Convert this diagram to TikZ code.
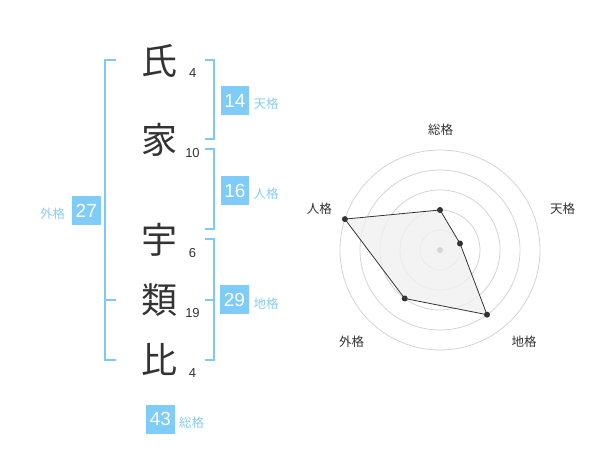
\documentclass[tikz,border=0pt]{standalone}
\usepackage{fontspec}
\setmainfont{Liberation Sans}
\newfontfamily\cjk{Noto Sans CJK JP}
\definecolor{ink}{HTML}{333333}
\definecolor{boxblue}{HTML}{80CCF8}
\definecolor{lineblue}{HTML}{80C8F8}
\definecolor{lblblue}{HTML}{8CCCF2}
\definecolor{ringgray}{HTML}{D4D4D4}
\definecolor{polyfill}{HTML}{F0F0F0}
\tikzset{
  kanji/.style={font=\cjk\fontsize{36}{36}\selectfont, text=ink, inner sep=0pt, anchor=base},
  strokes/.style={font=\fontsize{13}{13}\selectfont, text=ink, inner sep=0pt},
  scorebox/.style={fill=boxblue, text=white, minimum width=28.5pt, minimum height=29pt, inner sep=0pt, font=\fontsize{19}{19}\selectfont},
  lbl/.style={font=\cjk\fontsize{12.5}{12.5}\selectfont, text=lblblue, inner sep=0pt},
  bracketline/.style={draw=lineblue, line width=2pt},
  ring/.style={draw=ringgray, line width=0.8pt},
  axislbl/.style={font=\cjk\fontsize{12.5}{12.5}\selectfont, text=ink, inner sep=0pt},
  dot/.style={circle, fill=ink, inner sep=0pt, minimum size=6pt}
}
\begin{document}
\begin{tikzpicture}[x=1pt,y=-1pt]
\useasboundingbox (0,0) rectangle (600,470);
% kanji
\node[kanji] (k1) at (159,74.7) {氏};
\node[kanji] (k2) at (159,153.7) {家};
\node[kanji] (k3) at (159,253.7) {宇};
\node[kanji] (k4) at (159,313.7) {類};
\node[kanji] (k5) at (159,373.7) {比};
% stroke counts
\node[strokes] (s1) at (192.7,73.3) {4};
\node[strokes] (s2) at (192.5,153.3) {10};
\node[strokes] (s3) at (192.5,253.3) {6};
\node[strokes] (s4) at (192.5,313.3) {19};
\node[strokes] (s5) at (192.5,373.3) {4};
% brackets
\draw[bracketline] (116,60) -- (105,60) -- (105,360) -- (116,360);
\draw[bracketline] (105,300) -- (116,300);
\draw[bracketline] (205,60) -- (214.3,60) -- (214.3,139.5) -- (205,139.5);
\draw[bracketline] (205,149.5) -- (214.3,149.5) -- (214.3,229.5) -- (205,229.5);
\draw[bracketline] (205,239.5) -- (214.3,239.5) -- (214.3,360) -- (205,360);
\draw[bracketline] (205,300) -- (214.3,300);
% score boxes
\node[scorebox] (ten) at (235,100.5) {14};
\node[lbl] (tenl) at (266,103.5) {天格};
\node[scorebox] (jin) at (235,190.5) {16};
\node[lbl] (jinl) at (266,193.5) {人格};
\node[scorebox] (gai) at (86.3,210.5) {27};
\node[lbl] (gail) at (52.7,213.5) {外格};
\node[scorebox] (chi) at (234.5,300) {29};
\node[lbl] (chil) at (266,304) {地格};
\node[scorebox] (sou) at (160.5,419) {43};
\node[lbl] (soul) at (191.7,422.5) {総格};
% radar
\coordinate (c) at (440,250);
\foreach \r in {20,40,60,80,100} \draw[ring] (c) circle[radius=\r];
\coordinate (p1) at (440,210);
\coordinate (p2) at (460,243.5);
\coordinate (p3) at (487,314.7);
\coordinate (p4) at (404.7,298.5);
\coordinate (p5) at (344.9,219.1);
\draw[fill=polyfill, fill opacity=0.8, draw=ink, line width=0.8pt] (p1) -- (p2) -- (p3) -- (p4) -- (p5) -- cycle;
\fill[ringgray] (c) circle[radius=3];
\foreach \p in {p1,p2,p3,p4,p5} \node[dot] at (\p) {};
\node[axislbl] (a1) at (440.7,130) {総格};
\node[axislbl] (a2) at (562.7,209) {天格};
\node[axislbl] (a3) at (524,341.7) {地格};
\node[axislbl] (a4) at (351.7,341.7) {外格};
\node[axislbl] (a5) at (319.3,209) {人格};
\end{tikzpicture}
\end{document}
